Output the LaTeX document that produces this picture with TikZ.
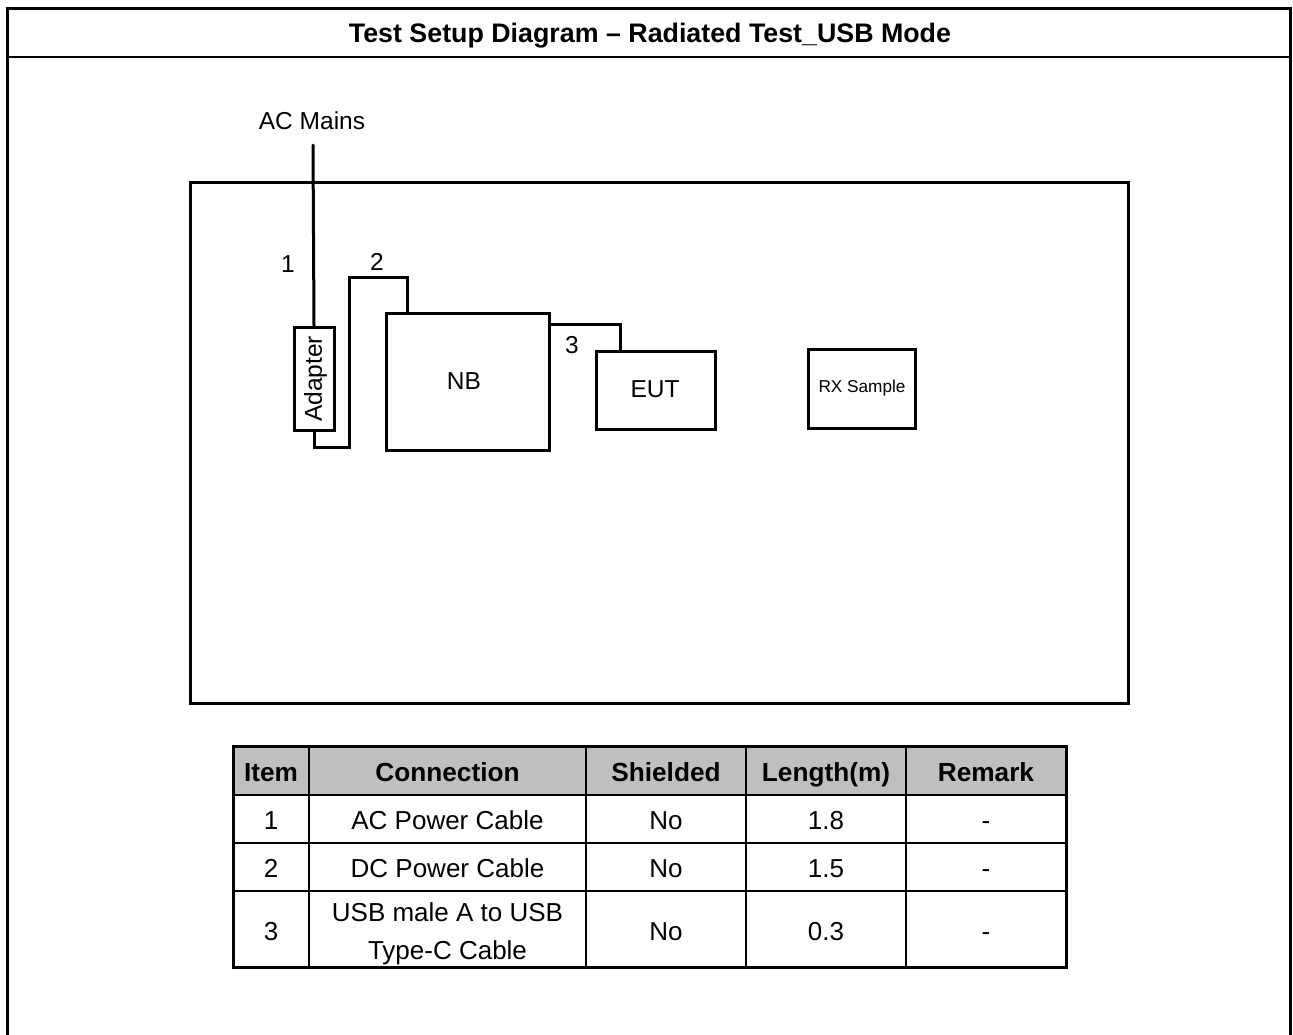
\documentclass[tikz,border=0pt]{standalone}
\usepackage{fontspec}
\setmainfont{Liberation Sans}
\begin{document}
\begin{tikzpicture}[x=1pt,y=-1pt,
  frame/.style={line width=3pt},
  cable/.style={line width=3pt},
  box/.style={draw,line width=3pt,inner sep=0pt},
  capc/.style={inner sep=0pt,text depth=0pt},
  lbl/.style={capc,text height=17.5pt,font=\fontsize{24.5}{28}\selectfont},
  ttxt/.style={capc,text height=18.6pt,font=\fontsize{26}{38}\selectfont},
  thead/.style={capc,text height=18.8pt,font=\bfseries\fontsize{26.2}{30}\selectfont}]
\useasboundingbox (0,0) rectangle (1293,1034);
% outer frame
\draw[frame] (7.5,1040) -- (7.5,8) -- (1290.5,8) -- (1290.5,1040);
\draw[line width=2.5pt] (7.5,57) -- (1290.5,57);
\node[capc,text height=19.2pt,font=\bfseries\fontsize{26.8}{30}\selectfont] (title) at (650,33) {Test Setup Diagram – Radiated Test\_USB Mode};
% test area
\draw[frame] (190,182) rectangle (1128,703);
\node[lbl] (acm) at (312,121) {AC Mains};
\coordinate (actop) at (313,145);
\node[box,minimum width=40pt,minimum height=103pt] (adapter) at (314,378.5) {};
\node[lbl,rotate=90] (adtxt) at (313,379) {Adapter};
\node[box,minimum width=163pt,minimum height=137pt] (nb) at (467.5,381.5) {};
\node[lbl] (nbtxt) at (464,381) {NB};
\node[box,minimum width=119pt,minimum height=78pt] (eut) at (655.5,390) {};
\node[lbl] (euttxt) at (655,389) {EUT};
\node[box,minimum width=107pt,minimum height=79pt] (rx) at (861.5,388.5) {};
\node[capc,text height=12.3pt,font=\fontsize{17.2}{20}\selectfont] (rxtxt) at (862,386) {RX Sample};
\node[lbl] (n1) at (288,264) {1};
\node[lbl] (n2) at (377,262) {2};
\node[lbl] (n3) at (572,345) {3};
% cables
\draw[cable,line cap=round] (actop) -- (adapter.north);
\coordinate (c2a) at (349,447);
\coordinate (c2b) at (407,277);
\coordinate (c2end) at (407,313);
\draw[cable,line join=miter] (adapter.south) |- (c2a) |- (c2b) -- (c2end);
\coordinate (c3start) at (549,324);
\coordinate (c3end) at (620,351);
\draw[cable] (c3start) -| (c3end);
% table
\fill[black!25] (233,746) rectangle (1066,795);
\foreach \yy in {795,843,891} \draw[line width=2pt] (233,\yy) -- (1066,\yy);
\foreach \xx in {309,586,746,906} \draw[line width=2pt] (\xx,746) -- (\xx,967);
\draw[line width=3pt] (233,746) rectangle (1066,967);
\node[thead] (h1) at (271,772) {Item};
\node[thead] (h2) at (447.5,772) {Connection};
\node[thead] (h3) at (666,772) {Shielded};
\node[thead] (h4) at (826,772) {Length(m)};
\node[thead] (h5) at (986,772) {Remark};
\node[ttxt] (r1a) at (271,820) {1};
\node[ttxt] (r1b) at (447.5,820) {AC Power Cable};
\node[ttxt] (r1c) at (666,820) {No};
\node[ttxt] (r1d) at (826,820) {1.8};
\node[ttxt] (r1e) at (986,820) {-};
\node[ttxt] (r2a) at (271,868) {2};
\node[ttxt] (r2b) at (447.5,868) {DC Power Cable};
\node[ttxt] (r2c) at (666,868) {No};
\node[ttxt] (r2d) at (826,868) {1.5};
\node[ttxt] (r2e) at (986,868) {-};
\node[ttxt] (r3a) at (271,931) {3};
\node[ttxt] (r3b1) at (447.5,912) {USB male A to USB};
\node[ttxt] (r3b2) at (447.5,950) {Type-C Cable};
\node[ttxt] (r3c) at (666,931) {No};
\node[ttxt] (r3d) at (826,931) {0.3};
\node[ttxt] (r3e) at (986,931) {-};
\end{tikzpicture}
\end{document}
